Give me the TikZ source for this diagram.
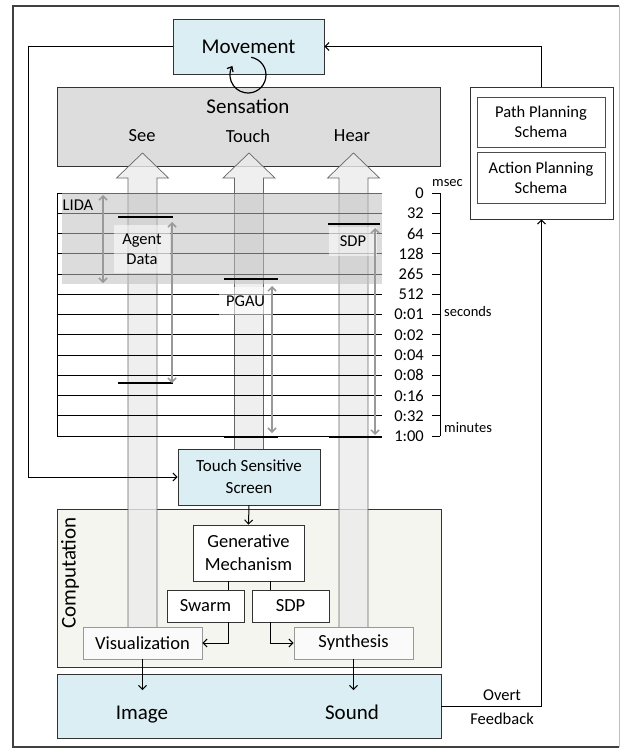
\documentclass[tikz,border=0pt]{standalone}
\usepackage{fontspec}
\setmainfont{Carlito}
\usetikzlibrary{arrows.meta}
\definecolor{paleblue}{HTML}{DBEEF3}
\definecolor{sensgray}{HTML}{DDDDDD}
\definecolor{compgray}{HTML}{F5F5F0}
\newcommand\bigf{\fontsize{21}{24}\selectfont}
\newcommand\midf{\fontsize{18.5}{23}\selectfont}
\newcommand\smf{\fontsize{16.5}{20}\selectfont}
\newcommand\tinyf{\fontsize{14.5}{17}\selectfont}

\begin{document}
\begin{tikzpicture}[x=1pt, y=-1pt,
  box/.style={draw=black!80, line width=.8pt, align=center, inner sep=0pt},
  bluebox/.style={box, fill=paleblue},
  whitebox/.style={box, fill=white},
  litebox/.style={draw=black!40, line width=.8pt, fill=black!2, align=center, inner sep=0pt},
  conn/.style={line width=1pt, -{Straight Barb[length=4pt,width=8pt]}},
  span/.style={draw=black!40, line width=1.5pt, {Straight Barb[length=4pt,width=8pt]}-{Straight Barb[length=4pt,width=8pt]}},
  bar/.style={line width=2pt},
  tag/.style={fill=white, fill opacity=.55, text opacity=1, inner sep=0pt, align=center},
  bigarrow/.style={draw=black!60, line width=.7pt, fill=black!8, fill opacity=.8}]
\useasboundingbox (0,0) rectangle (621,749);
\draw[black!75, line width=1.2pt] (619,747) -- (13,747) -- (13,6) -- (619,6);
\draw[black!25, line width=1pt] (619,6) -- (619,747);

% top row
\node[bluebox, font=\bigf, minimum width=151, minimum height=55] (mov) at (248.5,46.5) {Movement};
\node[box, fill=sensgray, minimum width=383, minimum height=79] (sens) at (248.5,126.5) {};
\node[font=\bigf] (senslbl) at (248,106) {Sensation};
\node[font=\midf] (see) at (142,136) {See};
\node[font=\midf] (touch) at (248,136) {Touch};
\node[font=\midf] (hear) at (352,136) {Hear};
\node[box, minimum width=143, minimum height=132] (plan) at (541.5,153) {};
\node[box, draw=black!70, font=\smf, minimum width=128, minimum height=50] (path) at (541,122) {Path Planning\\Schema};
\node[box, draw=black!70, font=\smf, minimum width=128, minimum height=51] (act) at (541,177.5) {Action Planning\\Schema};

% lower boxes
\node[box, fill=compgray, minimum width=384, minimum height=158] (comp) at (249,588) {};
\node[rotate=90, font=\bigf] (complbl) at (70,573) {Computation};
\node[box, fill=paleblue, minimum width=384, minimum height=64] (out) at (249,706) {};
\node[font=\bigf, anchor=base] (img) at (142,719) {Image};
\node[font=\bigf, anchor=base] (snd) at (352,719) {Sound};

% sense channels
\foreach \cx/\bot in {142.5/627, 249/449, 353.5/627}
  \draw[bigarrow] ({\cx-14.5},\bot) -- ({\cx-14.5},178) -- ({\cx-26},178) -- (\cx,153)
    -- ({\cx+26},178) -- ({\cx+14.5},178) -- ({\cx+14.5},\bot);

% time scale
\foreach \i in {0,...,12}
  \draw[line width=.7pt] (57,{193+20.25*\i}) -- (382,{193+20.25*\i});
\draw[line width=.7pt] (57,193) -- (57,436);
\foreach \t [count=\i from 0] in {0,32,64,128,265,512,0:01,0:02,0:04,0:08,0:16,0:32,1:00} {
  \node[anchor=east, font=\smf, inner sep=0pt] (tick\i) at (424,{193+20.25*\i}) {\t};
  \draw[line width=.8pt] (432,{193+20.25*\i}) -- (440,{193+20.25*\i});
}
\draw[line width=.8pt] (440,193) -- (440,436);
\node[anchor=west, font=\tinyf, inner sep=0pt] (msec) at (432,183) {msec};
\node[anchor=west, font=\tinyf, inner sep=0pt] (sec) at (444,312) {seconds};
\node[anchor=west, font=\tinyf, inner sep=0pt] (mins) at (444,428) {minutes};

% LIDA
\fill[black!25, opacity=.55] (62,193) rectangle (382,284);
\node[font=\smf] (lida) at (78,205) {LIDA};
\draw[span] (103,195) -- (103,283);

% spans
\draw[bar] (118,217) -- (173,217);
\draw[bar] (118,383) -- (173,383);
\draw[bar] (224,279) -- (278,279);
\draw[bar] (224,437) -- (278,437);
\draw[bar] (328,224) -- (380,224);
\draw[bar] (329,437) -- (382,437);
\node[tag, font=\smf, minimum width=56, minimum height=48] (agent) at (142,249) {Agent\\Data};
\node[tag, font=\smf, minimum width=53, minimum height=28] (pgau) at (245.5,301) {PGAU};
\node[tag, font=\smf, minimum width=48, minimum height=29] (sdplbl) at (353,241.5) {SDP};
\draw[span] (172,222) -- (172,383);
\draw[span] (272,286) -- (272,433);
\draw[span] (375,228) -- (375,435);

% computation
\node[bluebox, font=\fontsize{17}{22}\selectfont, minimum width=142, minimum height=56] (tss) at (249,477) {Touch Sensitive\\Screen};
\node[whitebox, font=\midf, minimum width=111, minimum height=56] (gen) at (248.5,553) {Generative\\Mechanism};
\node[whitebox, font=\midf, minimum width=77, minimum height=32] (swarm) at (205.5,606) {Swarm};
\node[whitebox, font=\midf, minimum width=77, minimum height=32] (sdp) at (290.5,606) {SDP};
\node[litebox, font=\midf, minimum width=119, minimum height=32] (vis) at (142.5,643) {Visualization};
\node[litebox, font=\midf, minimum width=119, minimum height=32] (syn) at (353.5,643) {Synthesis};
\coordinate (imgin) at (142.5,690);
\coordinate (sndin) at (353.5,690);

% connectors
\draw[conn] (mov.west) -- ++(-144,0) |- (tss.west);
\draw[conn] (plan.north) |- (mov.east);
\draw[conn] (out.east) -| (plan.south);
\node[font=\smf] (overt) at (502,695) {Overt};
\node[font=\smf] (fb) at (502,719) {Feedback};
\draw[line width=1.2pt, -{Straight Barb[length=4pt,width=7pt]}] ([shift={(-80:18)}]248,75) arc[start angle=-80, end angle=210, radius=18];
\draw[conn] (tss.south) -- (gen.north);
\draw[line width=1pt] ([xshift=-20pt]gen.south) -- ([xshift=-20pt]gen.south |- swarm.north);
\draw[line width=1pt] ([xshift=21.5pt]gen.south) -- ([xshift=21.5pt]gen.south |- sdp.north);
\draw[conn] ([xshift=22.5pt]swarm.south) |- (vis.east);
\draw[conn] ([xshift=-20.5pt]sdp.south) |- (syn.west);
\draw[conn] (vis.south) -- (imgin);
\draw[conn] (syn.south) -- (sndin);
\end{tikzpicture}
\end{document}
